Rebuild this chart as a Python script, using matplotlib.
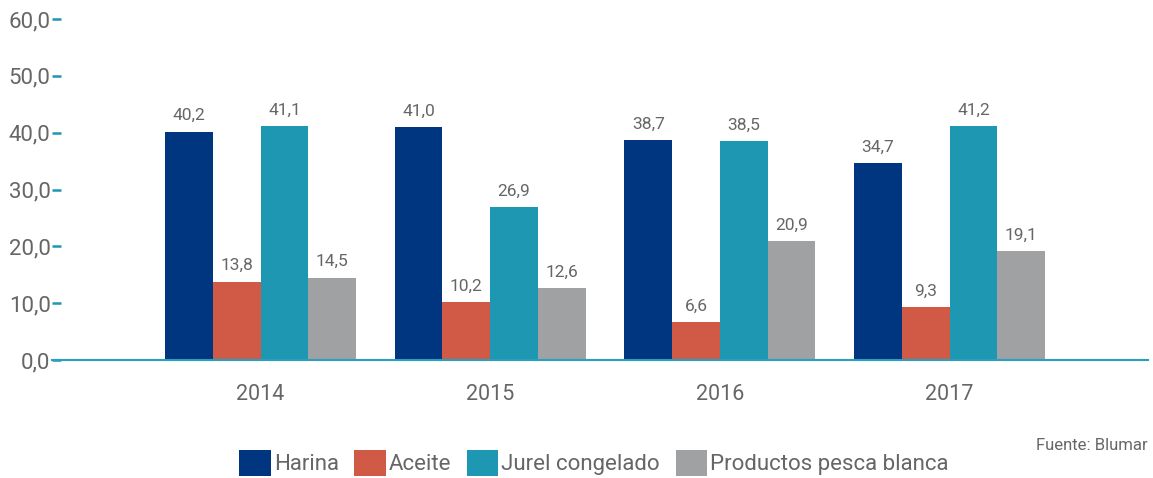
import matplotlib
matplotlib.use("Agg")
import matplotlib.pyplot as plt
import numpy as np

plt.rcParams['font.family'] = ['Roboto', 'DejaVu Sans']

years = ["2014", "2015", "2016", "2017"]
series_names = ["Harina", "Aceite", "Jurel congelado", "Productos pesca blanca"]
harina = [40.2, 41.0, 38.7, 34.7]
aceite = [13.8, 10.2, 6.6, 9.3]
jurel = [41.1, 26.9, 38.5, 41.2]
productos = [14.5, 12.6, 20.9, 19.1]
colors = ["#00367F", "#D05A45", "#1E97B2", "#A0A1A3"]
yticks = [0, 10, 20, 30, 40, 50, 60]

W, H = 1153, 478
fig = plt.figure(figsize=(W / 100, H / 100), dpi=100)
left, right, y0, ytop = 52, 1148, 360, 19
ax = fig.add_axes([left / W, (H - y0) / H, (right - left) / W, (y0 - ytop) / H])

x = np.arange(len(years))
bw = 0.208
data = [harina, aceite, jurel, productos]
label_color = "#666666"
for i, (vals, c, name) in enumerate(zip(data, colors, series_names)):
    pos = x + (i - 1.5) * bw
    bars = ax.bar(pos, vals, width=bw, color=c, label=name, zorder=2)
    for xp, v in zip(pos, vals):
        ax.annotate(f"{v:.1f}".replace(".", ","), (xp, v), xytext=(0, 6),
                    textcoords="offset points", ha="center", va="bottom",
                    fontsize=12.5, color=label_color)

ax.set_xlim(-0.908, 3.864)
ax.set_ylim(0, 60)
ax.set_yticks(yticks)
ax.set_yticklabels([f"{t:.1f}".replace(".", ",") for t in yticks])
ax.set_xticks(x)
ax.set_xticklabels(years)

for s in ["top", "right", "left"]:
    ax.spines[s].set_visible(False)
ax.spines["bottom"].set_color("#2AA0C0")
ax.spines["bottom"].set_linewidth(1.5)
ax.spines["bottom"].set_zorder(3)

ax.tick_params(axis="y", direction="in", length=6.5, width=1.8, color="#1E97B2",
               labelsize=16, labelcolor=label_color, pad=1)
ax.tick_params(axis="x", length=0, labelsize=15.5, labelcolor=label_color, pad=17)

fig.legend(loc="center", bbox_to_anchor=(594 / W, (H - 463) / H), ncol=4,
           frameon=False, fontsize=16, handlelength=1.4, handleheight=1.4,
           handletextpad=0.15, columnspacing=0.7, labelcolor=label_color,
           borderpad=0, borderaxespad=0)

fig.text(1148 / W, (H - 445) / H, "Fuente: Blumar", ha="right", va="center",
         fontsize=12, color=label_color)

fig.savefig("out.png", dpi=100)
